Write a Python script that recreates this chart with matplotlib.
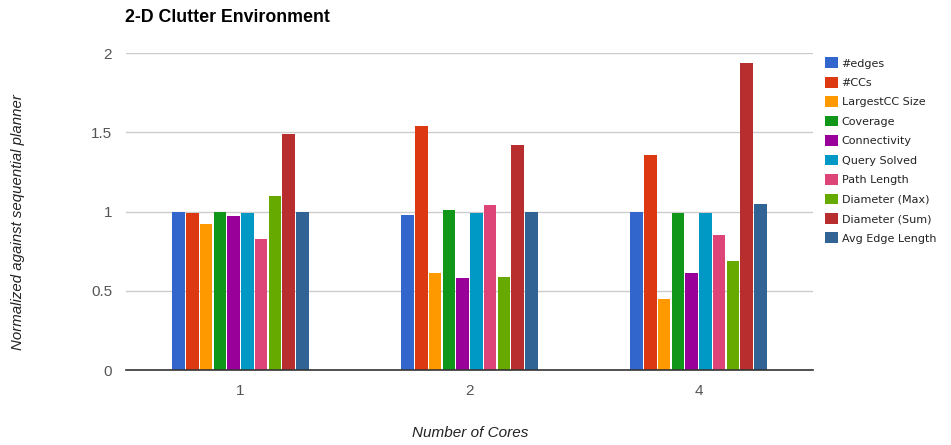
import matplotlib
matplotlib.use("Agg")
import matplotlib.pyplot as plt
import numpy as np

cores = ["1", "2", "4"]
metrics = ["#edges", "#CCs", "LargestCC Size", "Coverage", "Connectivity",
           "Query Solved", "Path Length", "Diameter (Max)", "Diameter (Sum)",
           "Avg Edge Length"]
edges = [1.00, 0.98, 1.00]
ccs = [0.99, 1.54, 1.36]
largest_cc = [0.92, 0.61, 0.45]
coverage = [1.00, 1.01, 0.99]
connectivity = [0.97, 0.58, 0.615]
query_solved = [0.99, 0.99, 0.99]
path_length = [0.83, 1.045, 0.855]
diameter_max = [1.10, 0.59, 0.69]
diameter_sum = [1.49, 1.42, 1.94]
avg_edge_length = [1.00, 1.00, 1.05]

series = [edges, ccs, largest_cc, coverage, connectivity, query_solved,
          path_length, diameter_max, diameter_sum, avg_edge_length]
colors = ["#3366cc", "#dc3912", "#ff9900", "#109618", "#990099",
          "#0099c6", "#dd4477", "#66aa00", "#b82e2e", "#316395"]

plt.rcParams["font.family"] = ["Liberation Sans", "DejaVu Sans"]

fig = plt.figure(figsize=(9.51, 4.45), dpi=100)
ax = fig.add_axes([126 / 951, 1 - 370 / 445, (813 - 126) / 951, (370 - 53.3) / 445])

x = np.arange(len(cores))
n = len(series)
group_w = 0.6
bw = group_w / n
handles = []
for i, (vals, c) in enumerate(zip(series, colors)):
    pos = x - group_w / 2 + bw * (i + 0.5)
    h = ax.bar(pos, vals, width=bw * 0.92, color=c, linewidth=0,
               label=metrics[i], zorder=3)
    handles.append(h)

ax.set_xlim(-0.5, 2.5)
ax.set_ylim(0, 2)
ax.set_yticks([0, 0.5, 1, 1.5, 2])
ax.set_yticklabels(["0", "0.5", "1", "1.5", "2"])
ax.set_xticks(x)
ax.set_xticklabels(cores)
ax.tick_params(length=0, labelsize=11, colors="#555555", pad=10)
ax.tick_params(axis="x", pad=10)
ax.grid(axis="y", color="#cccccc", linewidth=1, zorder=0)
for s in ["top", "right", "left"]:
    ax.spines[s].set_visible(False)
ax.spines["bottom"].set_color("#333333")
ax.spines["bottom"].set_linewidth(1.2)
ax.spines["bottom"].set_zorder(4)

fig.text(125 / 951, 1 - 17 / 445, "2-D Clutter Environment", fontsize=12.8,
         fontweight="bold", ha="left", va="center", color="#000000")
fig.text(470 / 951, 1 - 433 / 445, "Number of Cores", fontsize=11,
         fontstyle="italic", ha="center", va="center", color="#222222")
fig.text(18 / 951, 1 - 222 / 445, "Normalized against sequential planner",
         fontsize=10.8, fontstyle="italic", ha="center", va="center",
         rotation=90, color="#222222")

leg = fig.legend(handles=handles, labels=metrics, loc="upper left",
                 bbox_to_anchor=(821 / 951, 1 - 53 / 445), frameon=False,
                 prop={"family": "DejaVu Sans", "size": 8},
                 handlelength=1.1, handleheight=1.1, handletextpad=0.35,
                 labelspacing=0.75, borderaxespad=0)
for t in leg.get_texts():
    t.set_color("#222222")

fig.savefig("out.png", dpi=100, facecolor="white")
